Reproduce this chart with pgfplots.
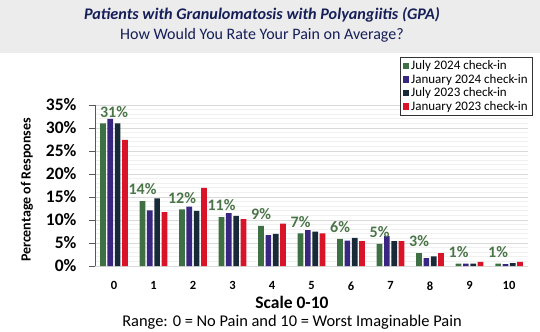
\documentclass[border=0pt]{standalone}
\usepackage{pgfplots}
\pgfplotsset{compat=1.18}
\usepackage{fontspec}
\setmainfont{Carlito}
\definecolor{gJul24}{RGB}{62,112,68}
\definecolor{pJan24}{RGB}{56,38,128}
\definecolor{dJul23}{RGB}{24,42,56}
\definecolor{rJan23}{RGB}{218,20,40}
\definecolor{titleblue}{RGB}{22,30,88}
\definecolor{headergray}{RGB}{236,236,236}
\definecolor{lblgreen}{RGB}{74,117,72}
\begin{document}
\begin{tikzpicture}[x=1bp,y=1bp]
\useasboundingbox (0,0) rectangle (540,331);
\fill[headergray] (0,278) rectangle (540,331);
\node[text=titleblue,font=\fontsize{16.2bp}{18bp}\selectfont\bfseries\itshape] at (262,316) {Patients with Granulomatosis with Polyangiitis (GPA)};
\node[text=titleblue,font=\fontsize{16bp}{18bp}\selectfont] at (262,296) {How Would You Rate Your Pain on Average?};
\node[rotate=90,font=\fontsize{14bp}{16bp}\selectfont\bfseries] at (27,141) {Percentage of Responses};
\node[font=\fontsize{17.5bp}{19bp}\selectfont\bfseries] at (292,29) {Scale 0-10};
\node[font=\fontsize{16.4bp}{18bp}\selectfont] at (292,9) {Range: 0 = No Pain and 10 = Worst Imaginable Pain};
\begin{axis}[
  at={(95bp,65bp)}, anchor=south west,
  scale only axis, width=433bp, height=161bp,
  ybar=1.6bp, bar width=5.7bp,
  xmin=-0.48, xmax=10.48, ymin=0, ymax=35,
  xtick={0,1,2,3,4,5,6,7,8,9,10},
  ytick={0,5,10,15,20,25,30,35},
  minor y tick num=4,
  yticklabel={\pgfmathprintnumber{\tick}\%},
  /pgf/number format/assume math mode=true,
  yticklabel style={font=\fontsize{17.5bp}{19bp}\selectfont\bfseries, xshift=-9bp},
  xticklabel style={font=\fontsize{12.5bp}{14bp}\selectfont\bfseries, yshift=-6bp},
  axis lines*=left,
  axis line style={-},
  y axis line style={draw=gray!70!black},
  x axis line style={draw=none},
  tick align=outside,
  major tick length=6bp,
  minor tick length=0pt,
  xtick style={draw=none},
  ytick style={draw=gray!70!black},
  ymajorgrids, yminorgrids,
  major grid style={draw=gray!30, line width=1bp},
  minor grid style={draw=gray!12, line width=0.8bp},
  legend style={at={(rel axis cs:1.0115,1.298)}, anchor=north east,
    draw=black!80, fill=white, line width=0.6bp,
    font=\fontsize{13bp}{15bp}\selectfont, inner xsep=3bp, inner ysep=1.5bp,
    row sep=-1.0bp, /tikz/every odd column/.append style={column sep=0bp}},
  legend cell align=left,
  legend image code/.code={\fill[#1] (2bp,-3.1bp) rectangle (8bp,3.1bp);},
]
\addplot[fill=gJul24, draw=none,
  point meta=explicit symbolic,
  nodes near coords,
  visualization depends on={ifthenelse(x<0.5,11,0) \as \lshift},
  nodes near coords style={font=\fontsize{16bp}{18bp}\selectfont\bfseries, text=lblgreen, inner sep=0pt, yshift=6bp, xshift=\lshift bp}]
 coordinates {(0,31.0) [31\%] (1,14.1) [14\%] (2,12.3) [12\%] (3,10.6) [11\%] (4,8.7) [9\%] (5,7.1) [7\%] (6,5.9) [6\%] (7,4.8) [5\%] (8,2.8) [3\%] (9,0.5) [1\%] (10,0.5) [1\%]};
\addplot[fill=pJan24, draw=none]
 coordinates {(0,32.0) (1,12.1) (2,12.9) (3,11.5) (4,6.7) (5,7.8) (6,5.5) (7,6.5) (8,1.7) (9,0.5) (10,0.4)};
\addplot[fill=dJul23, draw=none]
 coordinates {(0,31.0) (1,14.7) (2,12.0) (3,10.9) (4,7.0) (5,7.5) (6,6.1) (7,5.4) (8,2.1) (9,0.5) (10,0.6)};
\addplot[fill=rJan23, draw=none]
 coordinates {(0,27.4) (1,11.7) (2,17.0) (3,10.2) (4,9.2) (5,7.1) (6,5.4) (7,5.4) (8,2.8) (9,0.9) (10,0.9)};
\legend{July 2024 check-in, January 2024 check-in, July 2023 check-in, January 2023 check-in}
\end{axis}
\end{tikzpicture}
\end{document}
